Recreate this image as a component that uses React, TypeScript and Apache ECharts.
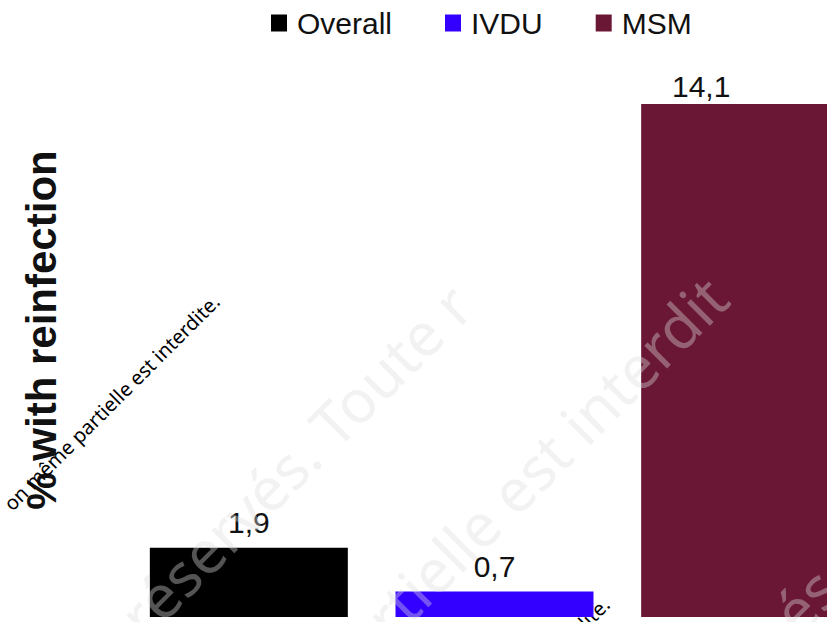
import React, { useEffect, useRef } from "react";
import * as echarts from "echarts";

const categories = ["Overall", "IVDU", "MSM"];
const seriesNames = ["Overall", "IVDU", "MSM"];
const values = [1.9, 0.7, 14.1];
const colors = ["#000000", "#3300ff", "#6a1735"];
const labelTexts = ["1,9", "0,7", "14,1"];
const yTitle = "% with reinfection";

export default function App() {
  const ref = useRef<HTMLDivElement>(null);
  useEffect(() => {
    if (!ref.current) return;
    const chart = echarts.init(ref.current, null, { renderer: "svg" });
    const font = "'Liberation Sans', Arial, sans-serif";
    const series = seriesNames.map((name, i) => ({
      name,
      type: "bar",
      barWidth: 198,
      barGap: "-100%",
      data: categories.map((_, j) => (j === i ? values[i] : null)),
      itemStyle: { color: colors[i] },
      label: {
        show: true,
        position: "top",
        distance: i === 2 ? 3 : 10,
        offset: i === 2 ? [-39, 0] : [0, 0],
        formatter: () => labelTexts[i],
        fontFamily: font,
        fontSize: 30,
        color: "#111",
      },
      z: 2,
    }));
    const wm = "rgba(221,221,221,0.38)";
    const wmFont = "'Noto Sans', sans-serif";
    chart.setOption({
      animation: false,
      backgroundColor: "#ffffff",
      legend: {
        left: 271,
        top: 8,
        padding: 0,
        icon: "rect",
        itemWidth: 16,
        itemHeight: 17,
        itemGap: 53,
        data: seriesNames,
        textStyle: {
          fontFamily: font,
          fontSize: 30,
          color: "#111",
          padding: [0, 0, 0, 5],
        },
      },
      grid: {
        left: 126,
        width: 737,
        top: 104,
        bottom: 5,
        containLabel: false,
        outerBoundsMode: "none",
      },
      xAxis: {
        type: "category",
        data: categories,
        show: false,
      },
      yAxis: {
        type: "value",
        min: 0,
        max: 14.1,
        show: false,
      },
      graphic: [
        {
          type: "text",
          x: 41,
          y: 330,
          rotation: Math.PI / 2,
          style: {
            text: yTitle,
            fontFamily: font,
            fontWeight: "bold",
            fontSize: 42,
            fill: "#111",
            align: "center",
            verticalAlign: "middle",
          },
          z: 10,
        },
        {
          type: "text",
          x: 295,
          y: 460,
          rotation: Math.PI / 4,
          style: {
            text: "réservés. Toute r",
            fontFamily: wmFont,
            fontSize: 60,
            fill: wm,
            align: "center",
            verticalAlign: "middle",
          },
          z: 20,
        },
        {
          type: "text",
          x: 521,
          y: 482,
          rotation: Math.PI / 4,
          style: {
            text: "partielle est interdit",
            fontFamily: wmFont,
            fontSize: 60,
            fill: wm,
            align: "center",
            verticalAlign: "middle",
          },
          z: 20,
        },
        {
          type: "text",
          x: 805,
          y: 600,
          rotation: Math.PI / 4,
          style: {
            text: "és",
            fontFamily: wmFont,
            fontSize: 60,
            fill: wm,
            align: "center",
            verticalAlign: "middle",
          },
          z: 20,
        },
        {
          type: "text",
          x: 223,
          y: 305,
          rotation: Math.PI / 4,
          style: {
            text: "on même partielle est interdite.",
            fontFamily: wmFont,
            fontSize: 20,
            fill: "#000",
            align: "right",
            verticalAlign: "bottom",
          },
          z: 30,
        },
        {
          type: "text",
          x: 613,
          y: 608,
          rotation: Math.PI / 4,
          style: {
            text: "interdite.",
            fontFamily: wmFont,
            fontSize: 20,
            fill: "#000",
            align: "right",
            verticalAlign: "bottom",
          },
          z: 1,
        },
      ],
      series,
    });
    return () => chart.dispose();
  }, []);
  return <div ref={ref} style={{ width: 827, height: 622, position: "absolute", left: 0, top: 0 }} />;
}
